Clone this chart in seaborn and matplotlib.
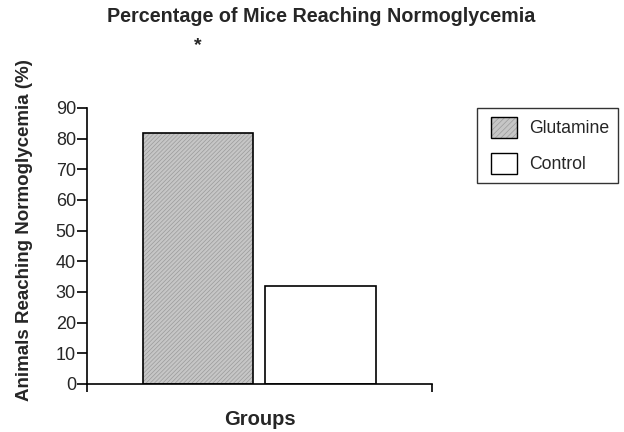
import matplotlib
matplotlib.use("Agg")
import matplotlib.pyplot as plt
import matplotlib.colors as mcolors
from matplotlib.patches import Patch, Rectangle
from matplotlib.legend_handler import HandlerPatch
import seaborn as sns

groups = ["Glutamine", "Control"]
pct_normo = [82, 32]
bar_colors = ["#c6c6c6", "#ffffff"]
y_ticks = [0, 10, 20, 30, 40, 50, 60, 70, 80, 90]

sns.set_style("ticks")
plt.rcParams["font.family"] = ["Liberation Sans", "DejaVu Sans"]
plt.rcParams["hatch.linewidth"] = 0.5

fig = plt.figure(figsize=(6.24, 4.32), dpi=100)
ax = fig.add_axes([87 / 624, 48 / 432, 345 / 624, 276 / 432])

sns.barplot(x=groups, y=pct_normo, hue=groups, palette=bar_colors, legend=False,
            width=0.9, edgecolor="black", linewidth=1.2, ax=ax)

hatch_col = mcolors.to_rgba("#9a9a9a")
ax.patches[0].set_hatch("////////")
ax.patches[0]._hatch_color = hatch_col

xmin, xmax = -0.906, 1.91
ax.set_xlim(xmin, xmax)
ax.set_ylim(0, 90)
ax.set_yticks(y_ticks)
ax.set_xticks([xmin, xmax])
ax.set_xticklabels(["", ""])
ax.tick_params(axis="x", length=6, width=1.2, color="black")
ax.tick_params(axis="y", length=7, width=1.2, color="black", labelsize=13, pad=1)
for s in ["top", "right"]:
    ax.spines[s].set_visible(False)
for s in ["left", "bottom"]:
    ax.spines[s].set_linewidth(1.2)
    ax.spines[s].set_color("black")

ax.set_xlabel("Groups", fontsize=14.5, fontweight="bold")
ax.xaxis.set_label_coords(0.501, -0.095)
ax.set_ylabel("Animals Reaching Normoglycemia (%)", fontsize=13.5, fontweight="bold")
ax.yaxis.set_label_coords(-0.157, 0.558)

ax.text(0, 110.5, "*", ha="center", va="center", fontsize=14, fontweight="bold", clip_on=False)
fig.text(321 / 624, 1 - 22 / 432, "Percentage of Mice Reaching Normoglycemia",
         ha="center", va="baseline", fontsize=14.2, fontweight="bold")


def shifted_box(legend, orig_handle, xdescent, ydescent, width, height, fontsize):
    # leave a small gap on the left so the box sits further from the frame
    off = 4
    return Rectangle((-xdescent + off, -ydescent), width - off, height)


h0 = Patch(facecolor=bar_colors[0], edgecolor="black", linewidth=1.0, hatch="//////")
h0._hatch_color = hatch_col
h1 = Patch(facecolor=bar_colors[1], edgecolor="black", linewidth=1.0)
fs = 12.7
leg = fig.legend([h0, h1], groups, loc="upper left", bbox_to_anchor=(477 / 624, 1 - 108 / 432),
                 fontsize=fs, frameon=True, fancybox=False,
                 handlelength=31 / (fs * 100 / 72), handleheight=26 / (fs * 100 / 72),
                 handletextpad=0.7, labelspacing=0.85, borderpad=0.5, borderaxespad=0,
                 handler_map={Patch: HandlerPatch(patch_func=shifted_box)})
leg.get_frame().set_edgecolor("black")
leg.get_frame().set_linewidth(1.0)
for h in leg.legend_handles:
    h.set_linewidth(1.0)
leg.legend_handles[0]._hatch_color = hatch_col

fig.savefig("out.png", dpi=100)
